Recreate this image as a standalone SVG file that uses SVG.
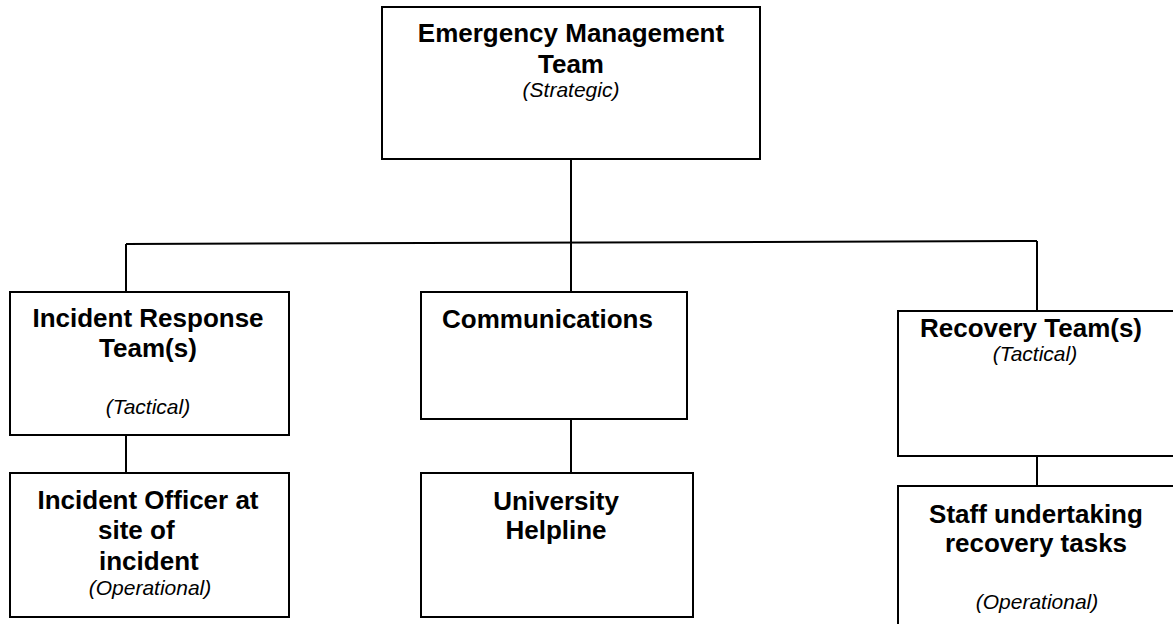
<svg xmlns="http://www.w3.org/2000/svg" width="1173" height="624" viewBox="0 0 1173 624">
  <style>
    .box { fill: #ffffff; stroke: #000000; stroke-width: 2; }
    .link { fill: none; stroke: #000000; stroke-width: 2; }
    .title { font-family: "Liberation Sans", Arial, sans-serif; font-weight: bold; font-size: 26px; fill: #000000; }
    .level { font-family: "Liberation Sans", Arial, sans-serif; font-style: italic; font-size: 21px; fill: #000000; }
    .c { text-anchor: middle; }
  </style>
  <rect width="1173" height="624" fill="#ffffff"/>

  <!-- connectors -->
  <g id="connectors">
    <line class="link" x1="571" y1="159" x2="571" y2="292"/>
    <line class="link" x1="126" y1="244" x2="1037" y2="241"/>
    <line class="link" x1="126" y1="244" x2="126" y2="292"/>
    <line class="link" x1="1037" y1="241" x2="1037" y2="311"/>
    <line class="link" x1="126" y1="435" x2="126" y2="473"/>
    <line class="link" x1="571" y1="419" x2="571" y2="473"/>
    <line class="link" x1="1037" y1="456" x2="1037" y2="486"/>
  </g>

  <!-- strategic level -->
  <g id="emergency-management-team">
    <rect class="box" x="382" y="7" width="378" height="152"/>
    <text class="title c" x="571" y="42">Emergency Management</text>
    <text class="title c" x="571" y="73">Team</text>
    <text class="level c" x="571" y="97">(Strategic)</text>
  </g>

  <!-- tactical level -->
  <g id="incident-response-teams">
    <rect class="box" x="10" y="292" width="279" height="143"/>
    <text class="title c" x="148" y="327">Incident Response</text>
    <text class="title c" x="148" y="357">Team(s)</text>
    <text class="level c" x="148" y="414">(Tactical)</text>
  </g>

  <g id="communications">
    <rect class="box" x="421" y="292" width="266" height="127"/>
    <text class="title" x="442" y="328">Communications</text>
  </g>

  <g id="recovery-teams">
    <rect class="box" x="898" y="311" width="290" height="145"/>
    <text class="title c" x="1031" y="337">Recovery Team(s)</text>
    <text class="level c" x="1035" y="361">(Tactical)</text>
  </g>

  <!-- operational level -->
  <g id="incident-officer">
    <rect class="box" x="10" y="473" width="279" height="144"/>
    <text class="title c" x="148" y="509">Incident Officer at</text>
    <text class="title" x="98" y="539">site of</text>
    <text class="title" x="99" y="570">incident</text>
    <text class="level c" x="150" y="595">(Operational)</text>
  </g>

  <g id="university-helpline">
    <rect class="box" x="421" y="473" width="272" height="144"/>
    <text class="title c" x="556" y="510">University</text>
    <text class="title c" x="556" y="539">Helpline</text>
  </g>

  <g id="recovery-staff">
    <rect class="box" x="898" y="486" width="290" height="160"/>
    <text class="title c" x="1036" y="523">Staff undertaking</text>
    <text class="title c" x="1036" y="552">recovery tasks</text>
    <text class="level c" x="1037" y="609">(Operational)</text>
  </g>
</svg>
